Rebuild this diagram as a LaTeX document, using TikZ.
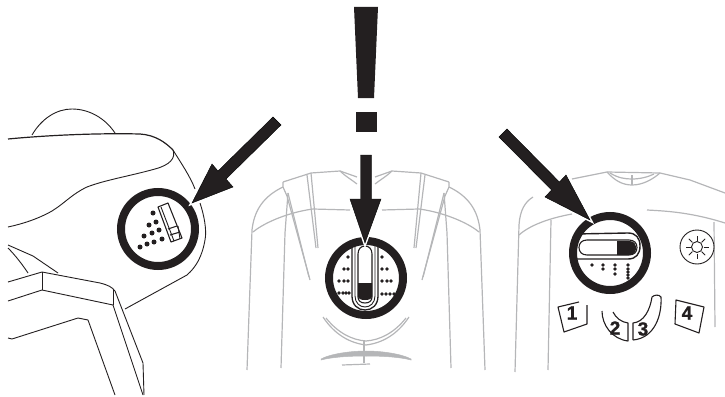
\documentclass[tikz,border=0pt]{standalone}
\usepackage{fontspec}
\usetikzlibrary{calc}
\setmainfont{Liberation Sans}
\newfontfamily\keyfont[FakeBold=1.2]{Liberation Sans Bold}
\definecolor{ink}{HTML}{231F20}
\definecolor{soft}{HTML}{B5B6B8}
\tikzset{
 outline/.style={draw=ink,line width=0.9pt,line join=round},
 pale/.style={draw=soft,line width=1.2pt,line join=round},
 ring/.style={draw=ink,line width=8pt,fill=white},
 pointer/.style={fill=ink,preaction={draw=white,line width=3.5pt,line join=miter}},
 spot/.style={fill=ink,draw=none},
 keynum/.style={font=\keyfont\fontsize{19}{19}\selectfont,text=ink,inner sep=0pt},
}
\begin{document}
\begin{tikzpicture}[x=1pt,y=-1pt]
\useasboundingbox (0,0) rectangle (725,396);
% exclamation mark
\fill[ink] (354,7) -- (378,7) -- (374,98) -- (358,98) -- cycle;
\fill[ink] (356,112) rectangle (377,132);
% LEFT PANEL
\draw[outline] (32,135) .. controls (42,118) and (57,109) .. (72,109) .. controls (89,109) and (105,118) .. (115,133);
\draw[outline,line width=1.2pt] (8,139) .. controls (50,135) and (100,133) .. (140,134) .. controls (155,135) and (165,142) .. (173,150);
\draw[outline] (173,150) .. controls (176,158) and (170,165) .. (155,169) .. controls (130,176) and (105,180) .. (87,187) .. controls (72,194) and (65,203) .. (52,211) .. controls (38,219) and (22,224) .. (8,227);
\draw[outline] (173,150) .. controls (181,163) and (190,176) .. (195,189);
\draw[outline] (200,203) .. controls (204,215) and (207,230) .. (205,240) .. controls (202,257) and (196,267) .. (187,275) -- (125,309);
\draw[outline] (8,245) -- (33,256) -- (58,273);
\draw[outline] (8,248) .. controls (15,255) and (22,264) .. (28,273);
\draw[outline] (8,282) -- (42,272) -- (100,283) .. controls (108,285) and (112,287) .. (115,291) -- (143,363) -- (144,395);
\draw[outline] (42,272) -- (42,290);
\draw[outline] (8,301) -- (42,290) -- (113,305) -- (143,395);
\draw[outline] (113,290) -- (113,305);
\draw[outline] (8,338) -- (12,339) -- (78,318) -- (88,320) -- (115,395);
\draw[ring] (158,229) circle (37);
\foreach \px/\py in {153/213,149/225,156/222,144/236,152/233,159/230,140/247,147/244,154/242,162/239}
  \fill[spot] (\px,\py) circle (2.5);
\draw[outline,line width=1.1pt] (158,207) -- (168,203) -- (182,238) -- (171,242) -- cycle;
\draw[outline] (161,207) -- (174,241);
\draw[outline,line width=1.1pt] (168,229) -- (177,226);
\draw[outline,line width=1.1pt] (170,235) -- (180,232);
\draw[outline] (178,226) -- (180,239);
\draw[pointer] (192,203) -- (212,164) -- (218,171) -- (273,117) -- (281,125) -- (226,179) -- (233,187) -- cycle;
% MIDDLE PANEL
\foreach \sx/\sh in {1/0,-1/732}{
\begin{scope}[xshift=\sh,xscale=\sx]
 \draw[pale] (247,370) -- (252,230) .. controls (254,212) and (262,197) .. (283,187);
 \draw[pale] (283,182) -- (311,173) -- (340,171) -- (357,177);
 \draw[pale] (283,182) -- (283,187) -- (287,196) -- (310,280);
 \draw[pale] (288,193) -- (309,277);
 \draw[pale] (311,173) -- (318,248);
 \draw[pale] (307,175) -- (316,248);
 \draw[pale] (281,368) -- (285,233) -- (288,193);
 \draw[pale] (253,232) .. controls (265,222) and (290,212) .. (313,209) -- (350,210);
 \draw[pale] (340,171) .. controls (345,176) and (352,180) .. (357,184);
 \draw[pale] (323,317) .. controls (335,335) and (350,343) .. (366,345);
 \draw[pale] (326,318) .. controls (338,333) and (352,340) .. (366,341);
 \filldraw[soft,line width=0.5pt] (321,359) .. controls (330,354) and (350,351) .. (366,351) -- (366,356) .. controls (350,356) and (332,357) .. (321,360) -- cycle;
\end{scope}}
\draw[pale] (364,341) -- (364,363);
\draw[pale] (342,365) -- (370,364);
\draw[ring] (366,278) circle (37);
\foreach \px/\py in {348/257,344/269,348/269,339/281,344/281,348/281,339/293,343/293,346/293,349/293,
  382/257,382/269,387/269,382/281,387/281,391/281,382/294,386/294,390/294,394/294}
  \fill[spot] (\px,\py) circle (1.8);
\draw[outline,line width=1.3pt] (352,246) -- (352,296) .. controls (352,305) and (358,310) .. (365,310) .. controls (372,310) and (378,305) .. (378,296) -- (378,246);
\draw[outline] (355,246) -- (355,296) .. controls (355,303) and (360,307) .. (365,307) .. controls (370,307) and (375,303) .. (375,296) -- (375,246);
\draw[outline,fill=white,line width=1.1pt] (358,254) .. controls (358,249) and (361,246) .. (365,246) .. controls (369,246) and (372,249) .. (372,254) -- (372,297) .. controls (372,301) and (369,303) .. (365,303) .. controls (361,303) and (358,301) .. (358,297) -- cycle;
\fill[ink] (358,283) -- (372,283) -- (372,296) .. controls (372,299) and (369,300) .. (365,300) .. controls (361,300) and (358,299) .. (358,296) -- cycle;
\draw[pointer] (365,243) -- (350,199) -- (360.5,199) -- (360.5,155) -- (371.5,155) -- (371.5,199) -- (381,199) -- cycle;
% RIGHT PANEL
\draw[pale] (572,179) -- (607,172) -- (660,173) -- (690,180) -- (725,193);
\draw[pale] (607,172) .. controls (615,181) and (623,185) .. (632,185) .. controls (642,185) and (652,180) .. (660,173);
\draw[pale] (610,173) .. controls (618,178) and (625,179) .. (632,179) .. controls (640,179) and (648,177) .. (654,174);
\draw[pale] (632,175) -- (632,185);
\draw[pale] (533,197) .. controls (525,202) and (520,210) .. (519,225) -- (515,372);
\draw[pale] (519,235) .. controls (530,225) and (550,218) .. (572,214);
\draw[pale] (551,220) -- (548,370);
\draw[pale] (647,210) .. controls (665,211) and (690,212) .. (725,223);
\draw[pale] (714,222) -- (715,327);
\draw[ring] (610,253) circle (37);
\draw[outline,line width=1.4pt] (575,234) -- (628,233) .. controls (636,233) and (640,238) .. (640,246) .. controls (640,254) and (636,259) .. (628,259) -- (575,259);
\draw[outline,fill=white,line width=1.1pt] (587,240) -- (629,240) .. controls (634,240) and (637,243) .. (637,247.5) .. controls (637,252) and (634,255) .. (629,255) -- (587,255) .. controls (582,255) and (579,252) .. (579,247.5) .. controls (579,243) and (582,240) .. (587,240) -- cycle;
\fill[ink] (617,241) -- (629,241) .. controls (634,241) and (636,244) .. (636,248) .. controls (636,252) and (634,255) .. (629,255) -- (617,255) -- cycle;
\foreach \px/\py in {592/265,603/265,603/269,615/265,615/269,615/274,628/265,628/269,628/272,628/275,628/278}
  \fill[spot] (\px,\py) circle (1.8);
\draw[pointer] (590,220) -- (545,197) -- (551.6,190) -- (499,137) -- (507,129) -- (559.4,182) -- (566,175) -- cycle;
% sun key
\coordinate (sun) at (697,247);
\draw[outline,fill=white] (sun) circle (17);
\draw[outline] (sun) circle (5.5);
\foreach \a in {0,45,...,315}
  \draw[outline] ($(sun)+(\a:6.5)$) -- ($(sun)+(\a:11.5)$);
% number keys
\draw[outline,line width=1.1pt] (579,302) -- (558,307) -- (564,332) -- (587,324) -- (587,305);
\draw[outline,line width=1.1pt] (676,300) -- (704,307) -- (699,333) -- (675,324) -- cycle;
\draw[outline,line width=1.1pt] (602,311) .. controls (602,325) and (612,339) .. (628,341) -- (628,323) .. controls (621,322) and (616,318) .. (613,312);
\draw[outline,line width=1.1pt] (633,340) -- (633,323) .. controls (644,322) and (650,310) .. (652,297) .. controls (654,295) and (659,294) .. (661,297) .. controls (662,315) and (655,338) .. (633,340);
\node[keynum] (kone) at (572,313) {1};
\node[keynum] (ktwo) at (615,328) {2};
\node[keynum] (kthree) at (643,329) {3};
\node[keynum] (kfour) at (687,313) {4};
\end{tikzpicture}
\end{document}
